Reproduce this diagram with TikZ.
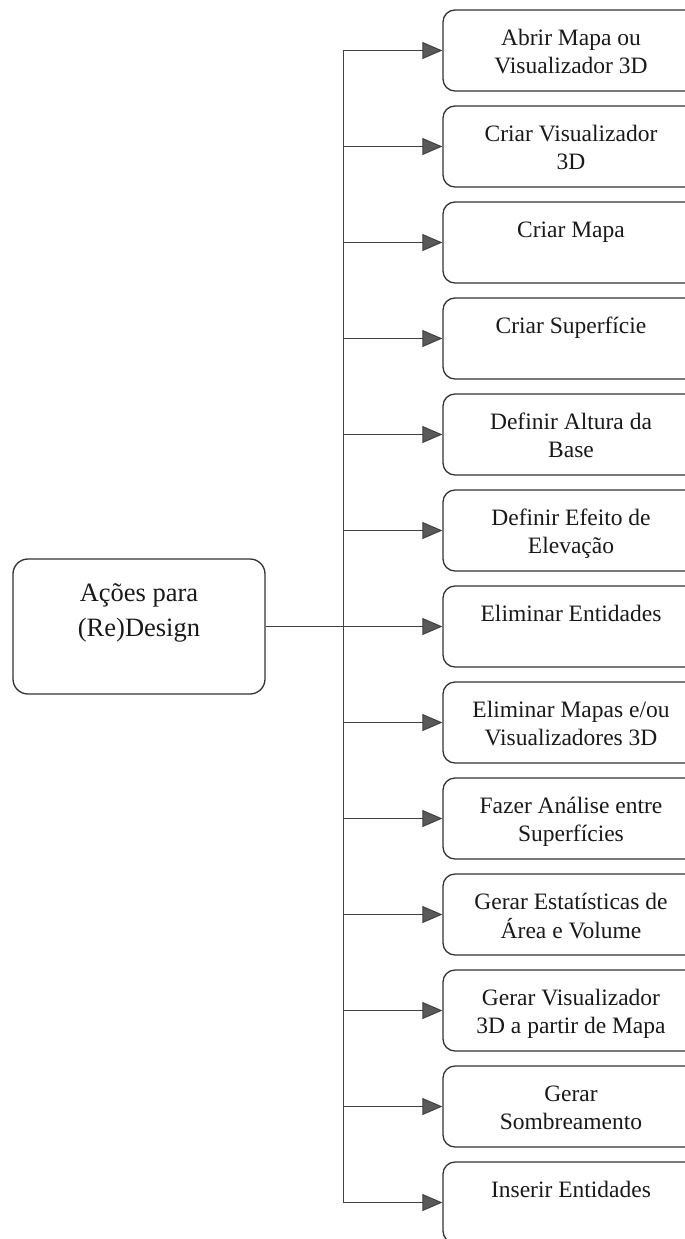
\documentclass[tikz,border=0pt]{standalone}
\usepackage{fontspec}
\setmainfont{Liberation Serif}
\usetikzlibrary{arrows.meta}
\begin{document}
\begin{tikzpicture}[x=1pt,y=-1pt,
  actbox/.style={draw=black!80, line width=1.3pt, rounded corners=12pt, minimum width=256pt, minimum height=81pt, inner sep=0pt},
  acttext/.style={anchor=north, inner sep=0pt, align=center, font=\fontsize{23.5}{28}\selectfont, text=black!90},
  rootbox/.style={draw=black!80, line width=1.3pt, rounded corners=15pt, minimum width=252pt, minimum height=135pt, inner sep=0pt},
  roottext/.style={anchor=north, inner sep=0pt, align=center, font=\fontsize{26.5}{35}\selectfont, text=black!90},
  conn/.style={draw=black!75, line width=0.9pt},
  arr/.style={conn, -{Triangle[length=20pt,width=17pt,fill=black!65]}},
]
\path[use as bounding box, clip] (0,0) rectangle (685,1239);

\node[rootbox] (L) at (139,626.5) {};
\node[roottext] (Lt) at (139,576.5) {\strut Ações para\\(Re)Design};

\foreach \i/\t in {
  0/{Abrir Mapa ou\\Visualizador 3D},
  1/{Criar Visualizador\\3D},
  2/{Criar Mapa},
  3/{Criar Superfície},
  4/{Definir Altura da\\Base},
  5/{Definir Efeito de\\Elevação},
  6/{Eliminar Entidades},
  7/{Eliminar Mapas e/ou\\Visualizadores 3D},
  8/{Fazer Análise entre\\Superfícies},
  9/{Gerar Estatísticas de\\Área e Volume},
  10/{Gerar Visualizador\\3D a partir de Mapa},
  11/{Gerar\\Sombreamento},
  12/{Inserir Entidades}}{
  \node[actbox] (b\i) at (571,{50.5+96*\i}) {};
  \node[acttext] (t\i) at (571,{10+96*\i+35-19.6}) {\strut\t};
  \coordinate (v\i) at (343,{50.5+96*\i});
}

\draw[conn] (v0) -- (v12);
\foreach \i in {0,1,2,3,4,5,7,8,9,10,11,12}{
  \draw[arr] (v\i) -- (b\i.west);
}
\draw[arr] (L.east) -- (b6.west);
\end{tikzpicture}
\end{document}
